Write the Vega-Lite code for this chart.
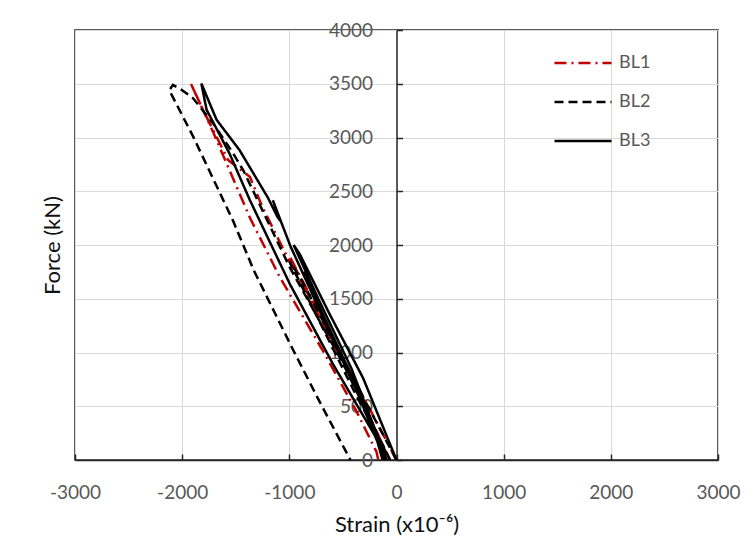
{
  "$schema": "https://vega.github.io/schema/vega-lite/v6.json",
  "width": 643,
  "height": 430,
  "autosize": {"type": "none"},
  "padding": {"left": 75, "top": 30, "right": 37, "bottom": 100},
  "background": "white",
  "config": {
    "font": "Lato",
    "view": {"stroke": "#262626", "strokeWidth": 1.5},
    "axis": {
      "labelFont": "Lato",
      "titleFont": "Lato",
      "labelFontSize": 19,
      "labelColor": "#595959",
      "titleFontSize": 22,
      "titleFontWeight": "normal",
      "titleColor": "#111111",
      "gridColor": "#d9d9d9",
      "gridWidth": 1,
      "domainColor": "#262626",
      "domainWidth": 1.5,
      "tickColor": "#262626",
      "tickWidth": 1.5,
      "labelExpr": "'' + datum.value"
    },
    "legend": {
      "labelFont": "Lato",
      "labelFontSize": 18,
      "labelColor": "#595959"
    }
  },
  "data": {
    "values": [
      {"s": "BL1", "i": 1, "x": 0, "y": 0},
      {"s": "BL1", "i": 2, "x": -500, "y": 950},
      {"s": "BL1", "i": 3, "x": -1000, "y": 1900},
      {"s": "BL1", "i": 4, "x": -780, "y": 1450},
      {"s": "BL1", "i": 5, "x": -420, "y": 750},
      {"s": "BL1", "i": 6, "x": -60, "y": 0},
      {"s": "BL1", "i": 7, "x": -450, "y": 820},
      {"s": "BL1", "i": 8, "x": -900, "y": 1650},
      {"s": "BL1", "i": 9, "x": -1250, "y": 2350},
      {"s": "BL1", "i": 10, "x": -1368, "y": 2634},
      {"s": "BL1", "i": 11, "x": -1571, "y": 2790},
      {"s": "BL1", "i": 12, "x": -1804, "y": 3255},
      {"s": "BL1", "i": 13, "x": -1920, "y": 3503},
      {"s": "BL1", "i": 14, "x": -1711, "y": 3050},
      {"s": "BL1", "i": 15, "x": -1368, "y": 2254},
      {"s": "BL1", "i": 16, "x": -1088, "y": 1699},
      {"s": "BL1", "i": 17, "x": -685, "y": 1013},
      {"s": "BL1", "i": 18, "x": -373, "y": 452},
      {"s": "BL1", "i": 19, "x": -187, "y": 77},
      {"s": "BL1", "i": 20, "x": -170, "y": 0},

      {"s": "BL2", "i": 1, "x": 0, "y": 0},
      {"s": "BL2", "i": 2, "x": -480, "y": 900},
      {"s": "BL2", "i": 3, "x": -900, "y": 1700},
      {"s": "BL2", "i": 4, "x": -1000, "y": 1850},
      {"s": "BL2", "i": 5, "x": -750, "y": 1350},
      {"s": "BL2", "i": 6, "x": -400, "y": 650},
      {"s": "BL2", "i": 7, "x": -60, "y": 0},
      {"s": "BL2", "i": 8, "x": -500, "y": 900},
      {"s": "BL2", "i": 9, "x": -1000, "y": 1800},
      {"s": "BL2", "i": 10, "x": -1431, "y": 2697},
      {"s": "BL2", "i": 11, "x": -1526, "y": 2855},
      {"s": "BL2", "i": 12, "x": -1713, "y": 3134},
      {"s": "BL2", "i": 13, "x": -1900, "y": 3367},
      {"s": "BL2", "i": 14, "x": -2000, "y": 3440},
      {"s": "BL2", "i": 15, "x": -2086, "y": 3490},
      {"s": "BL2", "i": 16, "x": -2120, "y": 3440},
      {"s": "BL2", "i": 17, "x": -1897, "y": 3008},
      {"s": "BL2", "i": 18, "x": -1526, "y": 2227},
      {"s": "BL2", "i": 19, "x": -1330, "y": 1761},
      {"s": "BL2", "i": 20, "x": -975, "y": 1044},
      {"s": "BL2", "i": 21, "x": -735, "y": 576},
      {"s": "BL2", "i": 22, "x": -430, "y": 0},

      {"s": "BL3", "i": 1, "x": 0, "y": 0},
      {"s": "BL3", "i": 2, "x": -312, "y": 763},
      {"s": "BL3", "i": 3, "x": -623, "y": 1355},
      {"s": "BL3", "i": 4, "x": -903, "y": 1916},
      {"s": "BL3", "i": 5, "x": -960, "y": 2000},
      {"s": "BL3", "i": 6, "x": -730, "y": 1500},
      {"s": "BL3", "i": 7, "x": -420, "y": 850},
      {"s": "BL3", "i": 8, "x": -90, "y": 0},
      {"s": "BL3", "i": 9, "x": -380, "y": 700},
      {"s": "BL3", "i": 10, "x": -700, "y": 1380},
      {"s": "BL3", "i": 11, "x": -870, "y": 1750},
      {"s": "BL3", "i": 12, "x": -680, "y": 1300},
      {"s": "BL3", "i": 13, "x": -360, "y": 620},
      {"s": "BL3", "i": 14, "x": -110, "y": 0},
      {"s": "BL3", "i": 15, "x": -400, "y": 720},
      {"s": "BL3", "i": 16, "x": -720, "y": 1400},
      {"s": "BL3", "i": 17, "x": -990, "y": 1990},
      {"s": "BL3", "i": 18, "x": -1154, "y": 2416},
      {"s": "BL3", "i": 19, "x": -1080, "y": 2220},
      {"s": "BL3", "i": 20, "x": -1110, "y": 2260},
      {"s": "BL3", "i": 21, "x": -1200, "y": 2440},
      {"s": "BL3", "i": 22, "x": -1464, "y": 2882},
      {"s": "BL3", "i": 23, "x": -1679, "y": 3165},
      {"s": "BL3", "i": 24, "x": -1821, "y": 3503},
      {"s": "BL3", "i": 25, "x": -1772, "y": 3258},
      {"s": "BL3", "i": 26, "x": -1558, "y": 2850},
      {"s": "BL3", "i": 27, "x": -1368, "y": 2417},
      {"s": "BL3", "i": 28, "x": -995, "y": 1637},
      {"s": "BL3", "i": 29, "x": -591, "y": 889},
      {"s": "BL3", "i": 30, "x": -187, "y": 202},
      {"s": "BL3", "i": 31, "x": -130, "y": 0}
    ]
  },
  "mark": {"type": "line", "strokeWidth": 2.5, "clip": true},
  "encoding": {
    "x": {
      "field": "x",
      "type": "quantitative",
      "scale": {"domain": [-3000, 3000], "nice": false},
      "axis": {
        "values": [-3000, -2000, -1000, 0, 1000, 2000, 3000],
        "title": "Strain (x10⁻⁶)",
        "tickSize": -6,
        "labelPadding": 29,
        "titlePadding": 12,
        "labelFlush": false
      }
    },
    "y": {
      "field": "y",
      "type": "quantitative",
      "scale": {"domain": [0, 4000], "nice": false},
      "axis": {
        "values": [0, 500, 1000, 1500, 2000, 2500, 3000, 3500, 4000],
        "offset": -321.5,
        "title": "Force (kN)",
        "tickSize": -6,
        "labelPadding": 30,
        "labelFlush": false,
        "titleX": -344,
        "titleY": 215,
        "titleAngle": 270,
        "titleAlign": "center",
        "titleBaseline": "middle"
      }
    },
    "order": {"field": "i", "type": "quantitative"},
    "color": {
      "field": "s",
      "type": "nominal",
      "scale": {"domain": ["BL1", "BL2", "BL3"], "range": ["#C00000", "#000000", "#000000"]},
      "legend": {
        "title": null,
        "orient": "none",
        "legendX": 478,
        "legendY": 3,
        "symbolType": "stroke",
        "symbolSize": 3249,
        "symbolStrokeWidth": 2.5,
        "labelOffset": 6,
        "rowPadding": 0
      }
    },
    "strokeDash": {
      "field": "s",
      "type": "nominal",
      "scale": {"domain": ["BL1", "BL2", "BL3"], "range": [[12, 5, 2, 5], [9, 5], [1, 0]]},
      "legend": {
        "title": null,
        "orient": "none",
        "legendX": 478,
        "legendY": 3,
        "symbolType": "stroke",
        "symbolSize": 3249,
        "symbolStrokeWidth": 2.5,
        "labelOffset": 6,
        "rowPadding": 0
      }
    }
  }
}
